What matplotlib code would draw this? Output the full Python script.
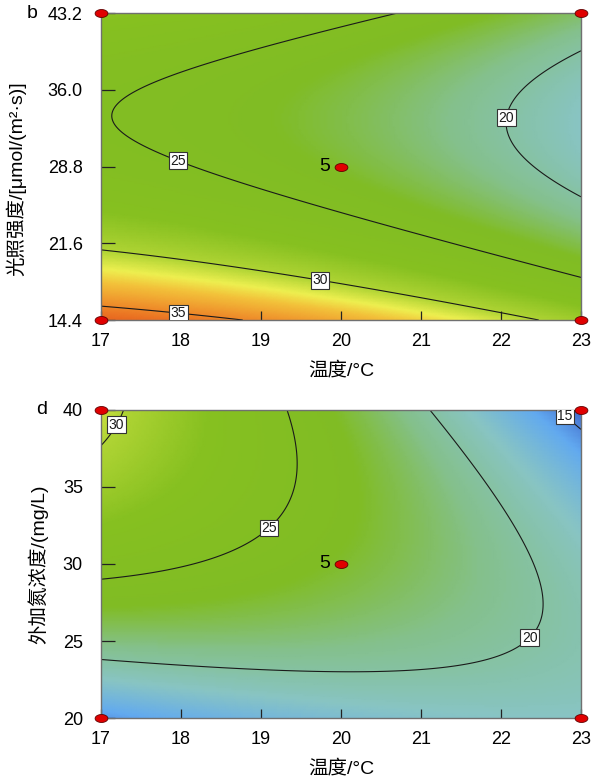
import numpy as np
import matplotlib
matplotlib.use("Agg")
import matplotlib.pyplot as plt
from matplotlib.colors import LinearSegmentedColormap, Normalize
from matplotlib.path import Path
from matplotlib.markers import MarkerStyle

# ---------------- data ----------------
# factor ranges (low, centre, high)
temp_range = [17.0, 20.0, 23.0]          # 温度 /°C
light_range = [14.4, 28.8, 43.2]         # 光照强度
nitro_range = [20.0, 30.0, 40.0]         # 外加氮浓度

# response-surface model in coded units: [b0, bA, bB, bAB, bAA, bBB]
coef_b = [23.24, -3.37, -3.93, 0.34, -0.83, 6.45]   # A = temperature, B = light
coef_d = [23.24, -3.37, 2.70, -4.91, -0.83, -2.76]  # A = temperature, B = nitrogen

levels_b = [20, 25, 30, 35]
levels_d = [15, 20, 25, 30]

label_pos_b = [(22.04, 33.4), (18.01, 30.2), (19.76, 19.0), (17.98, 16.0)]
label_pos_d = [(22.78, 39.5), (22.36, 25.2), (19.09, 32.4), (17.24, 38.9)]

x_ticks = [17, 18, 19, 20, 21, 22, 23]
y_ticks_b = [14.4, 21.6, 28.8, 36.0, 43.2]
y_ticks_b_lab = ["14.4", "21.6", "28.8", "36.0", "43.2"]
y_ticks_d = [20, 25, 30, 35, 40]

center_runs = "5"

# colour scale anchors (response value, colour)
cmap_vals = [13.0, 14.5, 16.0, 18.5, 21.0, 23.5, 27.5, 30.0, 31.5, 32.7, 34.0, 35.5, 37.0]
cmap_cols = ["#3050c0", "#4a7ad4", "#62aaf0", "#88c4c4", "#84c08c", "#80bc24", "#86c020",
             "#b0d434", "#eef050", "#f2c23a", "#f0a030", "#ec7a24", "#e45a1c"]

# ---------------- drawing ----------------
vmin, vmax = cmap_vals[0], cmap_vals[-1]
cmap = LinearSegmentedColormap.from_list(
    "de", [((v - vmin) / (vmax - vmin), c) for v, c in zip(cmap_vals, cmap_cols)])
norm = Normalize(vmin, vmax)

TICK_FONT = "Liberation Sans"
LAB_FONT = ["Liberation Sans", "Noto Sans CJK SC", "DejaVu Sans"]

theta = np.linspace(0, 2 * np.pi, 41)
ell = Path(np.column_stack([np.cos(theta), 0.62 * np.sin(theta)]), closed=True)
ell_marker = MarkerStyle(ell)


def surface(coef, xr, yr, n=200):
    x = np.linspace(xr[0], xr[2], n)
    y = np.linspace(yr[0], yr[2], n)
    X, Y = np.meshgrid(x, y)
    A = (X - xr[1]) / (xr[2] - xr[1])
    B = (Y - yr[1]) / (yr[2] - yr[1])
    b0, bA, bB, bAB, bAA, bBB = coef
    Z = b0 + bA * A + bB * B + bAB * A * B + bAA * A ** 2 + bBB * B ** 2
    return X, Y, Z


def panel(ax, coef, xr, yr, levels, lpos, yticks, ylabs, ylabel, ylab_xy, letter, letter_x):
    X, Y, Z = surface(coef, xr, yr)
    ax.pcolormesh(X, Y, Z, cmap=cmap, norm=norm, shading="gouraud", rasterized=True)
    cs = ax.contour(X, Y, Z, levels=levels, colors="#1a1a1a", linewidths=0.8)
    texts = ax.clabel(cs, fmt="%d", manual=lpos, inline=False, fontsize=10)
    for t in texts:
        t.set_rotation(0)
        t.set_fontfamily(TICK_FONT)
        t.set_bbox(dict(facecolor="white", edgecolor="#333333", linewidth=0.8, pad=1.0))
        t.set_zorder(5)
    ax.set_xlim(xr[0], xr[2])
    ax.set_ylim(yr[0], yr[2])
    ax.set_xticks(x_ticks)
    ax.set_xticklabels([str(v) for v in x_ticks], fontfamily=TICK_FONT, fontsize=13)
    ax.set_yticks(yticks)
    ax.set_yticklabels(ylabs, fontfamily=TICK_FONT, fontsize=13)
    ax.tick_params(axis="x", direction="in", length=6.5, width=0.9, color="#222222", pad=9)
    ax.tick_params(axis="y", direction="in", length=10, width=0.9, color="#222222", pad=13)
    for s in ax.spines.values():
        s.set_color("#707070")
        s.set_linewidth(1.0)
    ax.set_xlabel("温度/°C", fontfamily=LAB_FONT, fontsize=14)
    ax.xaxis.set_label_coords(0.5, -0.134)
    ax.set_ylabel(ylabel, fontfamily=LAB_FONT, fontsize=14)
    ax.yaxis.set_label_coords(*ylab_xy)
    # design points
    xs = [xr[0], xr[2], xr[0], xr[2], xr[1]]
    ys = [yr[0], yr[0], yr[2], yr[2], yr[1]]
    ax.scatter(xs, ys, marker=ell_marker, s=85, color="#e00000", edgecolors="#600000",
               linewidths=0.6, clip_on=False, zorder=10)
    ax.annotate(center_runs, (xr[1], yr[1]), xytext=(-8, 0), textcoords="offset points",
                ha="right", va="center", fontsize=14, fontfamily=TICK_FONT, zorder=10)
    ax.text(letter_x, yr[2], letter, transform=ax.get_yaxis_transform(),
            ha="left", va="center", fontsize=14, fontfamily=TICK_FONT)


fig = plt.figure(figsize=(5.97, 7.79), dpi=100)
ax1 = fig.add_axes([0.1692, 0.5892, 0.8040, 0.3941])
ax2 = fig.add_axes([0.1692, 0.0783, 0.8040, 0.3954])

panel(ax1, coef_b, temp_range, light_range, levels_b, label_pos_b,
      y_ticks_b, y_ticks_b_lab, "光照强度/[μmol/(m²·s)]", (-0.155, 0.46), "b", -0.155)
panel(ax2, coef_d, temp_range, nitro_range, levels_d, label_pos_d,
      y_ticks_d, [str(v) for v in y_ticks_d], "外加氮浓度/(mg/L)", (-0.11, 0.5), "d", -0.135)

fig.savefig("out.png", dpi=100)
